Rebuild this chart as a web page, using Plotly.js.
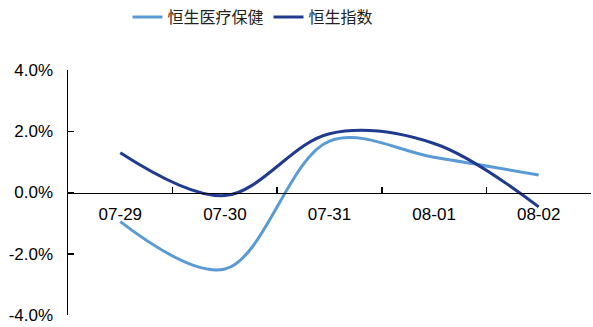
<!DOCTYPE html>
<html><head><meta charset="utf-8">
<script src="https://cdn.plot.ly/plotly-3.0.1.min.js"></script>
<style>body{margin:0;background:#fff}#c{width:593px;height:327px}</style>
</head><body><div id="c"></div>
<script>
const categories = ["07-29","07-30","07-31","08-01","08-02"];
const healthcare = [-0.95, -2.5, 1.68, 1.15, 0.57];
const hsi = [1.3, -0.1, 1.92, 1.6, -0.47];
const yTicks = [-4, -2, 0, 2, 4];
const yTickText = ["-4.0%", "-2.0%", "0.0%", "2.0%", "4.0%"];

const traces = [
  {x: categories, y: healthcare, name: "恒生医疗保健", type: "scatter", mode: "lines",
   line: {color: "#5B9BD5", width: 3, shape: "spline", smoothing: 1}},
  {x: categories, y: hsi, name: "恒生指数", type: "scatter", mode: "lines",
   line: {color: "#1F3A8F", width: 3, shape: "spline", smoothing: 1}}
];
const layout = {
  width: 593, height: 327,
  margin: {l: 68, r: 2, t: 70, b: 12, autoexpand: false},
  paper_bgcolor: "#fff", plot_bgcolor: "#fff",
  font: {family: "Arial, 'Liberation Sans', sans-serif", color: "#000", size: 17},
  showlegend: true,
  legend: {orientation: "h", x: 0.215, xanchor: "left", xref: "container",
           y: 0.948, yanchor: "middle", yref: "container",
           font: {family: "'Noto Sans CJK SC', sans-serif", size: 16, color: "#222"},
           itemwidth: 30, tracegroupgap: 0},
  xaxis: {type: "category", range: [-0.5, 4.5], anchor: "free", position: 0.5,
          showline: true, linecolor: "#000", linewidth: 1.5,
          ticks: "inside", tickson: "boundaries", ticklen: 6, tickwidth: 1.5, tickcolor: "#000",
          ticklabelstandoff: 6,
          showgrid: false, zeroline: false, tickfont: {size: 17}},
  yaxis: {range: [-4, 4], tickvals: yTicks, ticktext: yTickText,
          showline: true, linecolor: "#000", linewidth: 1.5,
          ticks: "inside", ticklen: 6, tickwidth: 1.5, tickcolor: "#000",
          ticklabelstandoff: 10,
          showgrid: false, zeroline: false, tickfont: {size: 17}}
};
Plotly.newPlot("c", traces, layout, {displayModeBar: false, staticPlot: true});
</script></body></html>
